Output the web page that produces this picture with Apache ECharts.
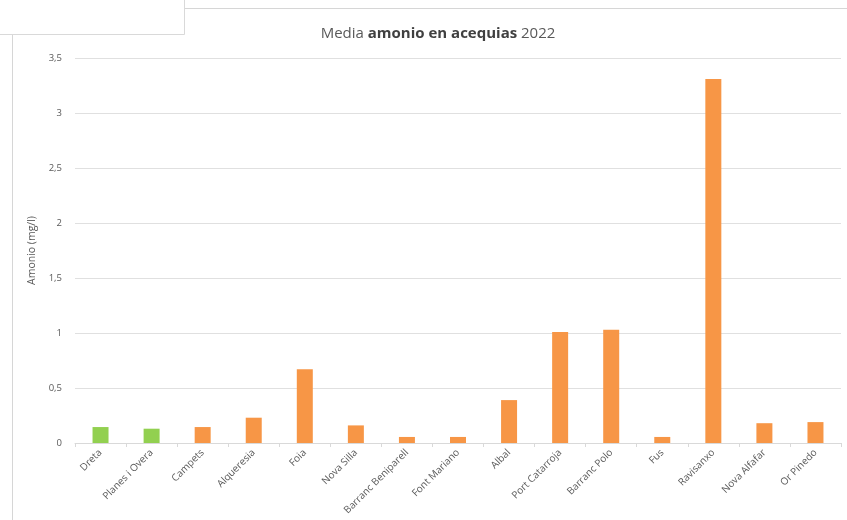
<!DOCTYPE html>
<html><head><meta charset="utf-8">
<script src="https://cdn.jsdelivr.net/npm/echarts@6/dist/echarts.min.js"></script>
<style>html,body{margin:0;padding:0;background:#fff}#c{width:847px;height:520px}</style>
</head><body><div id="c"></div>
<script>
const categories = ['Dreta','Planes i Overa','Campets','Alqueresia','Foia','Nova Silla','Barranc Beniparell','Font Mariano','Albal','Port Catarroja','Barranc Polo','Fus','Ravisanxo','Nova Alfafar','Or Pinedo'];
const values = [0.145,0.13,0.145,0.23,0.67,0.16,0.055,0.055,0.39,1.01,1.03,0.055,3.31,0.18,0.19];
const greenCount = 2;
const yTicks = [0,0.5,1,1.5,2,2.5,3,3.5];

const chart = echarts.init(document.getElementById('c'));
const font = '"Open Sans", "Noto Sans", sans-serif';
chart.setOption({
  animation:false,
  backgroundColor:'#fff',
  textStyle:{fontFamily:font},
  graphic:[
    {type:'line',shape:{x1:12.5,y1:35,x2:12.5,y2:520},style:{stroke:'#d6d6d6',lineWidth:1}},
    {type:'line',shape:{x1:185,y1:8.5,x2:847,y2:8.5},style:{stroke:'#d6d6d6',lineWidth:1}},
    {type:'rect',shape:{x:-1,y:-1,width:185.5,height:35.5},style:{fill:'#fff',stroke:'#d9d9d9',lineWidth:1}}
  ],
  title:{
    left:433, top:21, textAlign:'center',
    text:'{a|Media }{b|amonio en acequias}{a| 2022}',
    textStyle:{fontWeight:'normal',rich:{
      a:{fontSize:15,color:'#595959',fontWeight:'normal',fontFamily:font},
      b:{fontSize:15,color:'#404040',fontWeight:'bold',fontFamily:font}
    }}
  },
  grid:{left:75,right:6,top:58,bottom:77,containLabel:false},
  xAxis:{
    type:'category',data:categories,
    axisLine:{lineStyle:{color:'#d9d9d9'}},
    axisTick:{show:true,length:4,lineStyle:{color:'#d9d9d9'}},
    axisLabel:{rotate:45,fontSize:10,color:'#595959',margin:8,interval:0,fontFamily:font}
  },
  yAxis:{
    type:'value',min:0,max:3.5,interval:0.5,
    name:'Amonio (mg/l)',nameLocation:'middle',nameGap:29,nameRotate:90,
    nameTextStyle:{fontSize:10.5,color:'#595959',fontFamily:font},
    axisLine:{show:false},axisTick:{show:false},
    splitLine:{lineStyle:{color:'#e0e0e0'}},
    axisLabel:{fontSize:9.5,color:'#595959',margin:13,fontFamily:font,
      formatter:v=>String(v).replace('.',',')}
  },
  series:[{
    type:'bar',barWidth:16,
    data:values.map((v,i)=>({value:v,itemStyle:{color:i<greenCount?'#92D050':'#F79646'}}))
  }]
});
</script></body></html>
